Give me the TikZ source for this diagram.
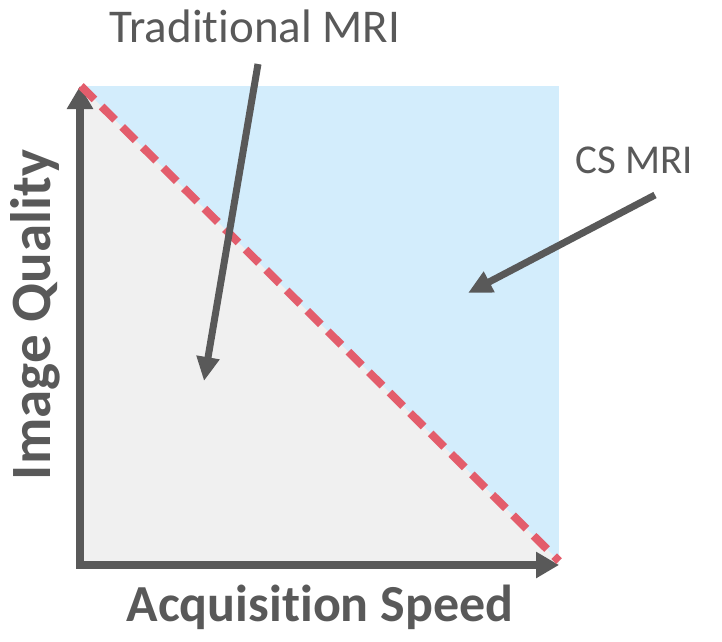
\documentclass[tikz,border=0pt]{standalone}
\usepackage{fontspec}
\setmainfont{Carlito}[Ligatures={NoCommon}]
\usetikzlibrary{arrows.meta}
\definecolor{regionblue}{HTML}{D3EDFC}
\definecolor{regiongray}{HTML}{F0F0F0}
\definecolor{boundred}{HTML}{E35D6C}
\definecolor{inkgray}{HTML}{595959}
\tikzset{
  axishead/.tip={Triangle[length=23pt,width=25pt]},
  axisline/.style={draw=inkgray, line width=8pt, axishead-axishead, line join=miter},
  pointer/.style={draw=inkgray, line width=7pt, -{Triangle[length=24pt,width=22pt]}},
  bigtext/.style={text=inkgray, inner sep=0pt},
  axistext/.style={text=inkgray, inner sep=0pt},
}
\begin{document}
\begin{tikzpicture}[x=1pt, y=-1pt]
  \useasboundingbox (0,0) rectangle (722,641);
  % corner points of the plot
  \coordinate (tl) at (81,86);
  \coordinate (br) at (559,561);
  \coordinate (org) at (80,565);
  % regions above and below the trade-off line
  \fill[regionblue] (tl) rectangle (br);
  \fill[regiongray] (tl) -- (br) |- (org) -- cycle;
  % axes
  \coordinate (ytip) at (80,86);
  \coordinate (xtip) at (559,565);
  \draw[axisline] (ytip) |- (xtip);
  % trade-off boundary
  \draw[boundred, line width=8pt, dash pattern=on 19pt off 10pt] (tl) -- (br);
  % labels
  \node[bigtext, font=\fontsize{47}{50}\selectfont] (trad) at (255,26) {Traditional MRI};
  \node[bigtext, font=\fontsize{41}{44}\selectfont] (cs) at (634,160) {CS MRI};
  \node[axistext, font=\bfseries\fontsize{52}{56}\selectfont] (xlab) at (320,607) {Acquisition Speed};
  \node[axistext, font=\bfseries\fontsize{57}{60}\selectfont, rotate=90] (ylab) at (35,315) {Image Quality};
  % pointers into the regions
  \coordinate (tradtip) at (204,381);
  \coordinate (cstip) at (468,293);
  \draw[pointer] (258,64) -- (tradtip);
  \draw[pointer] (655,195) -- (cstip);
\end{tikzpicture}
\end{document}
